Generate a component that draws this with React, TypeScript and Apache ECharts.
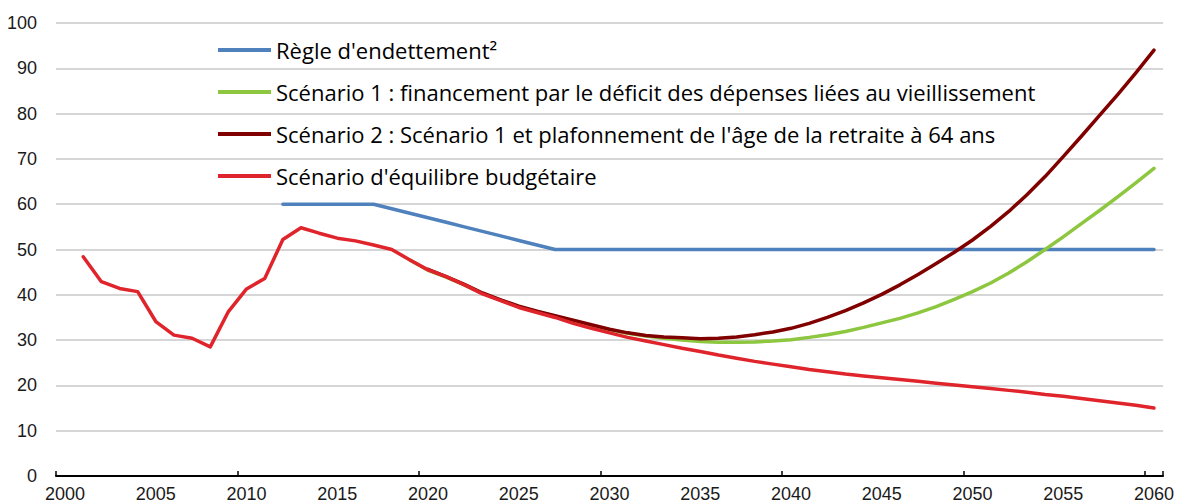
import React, { useEffect, useRef } from "react";
import * as echarts from "echarts";

const years = [
  "2000", "2001", "2002", "2003", "2004", "2005", "2006", "2007", "2008", "2009",
  "2010", "2011", "2012", "2013", "2014", "2015", "2016", "2017", "2018", "2019",
  "2020", "2021", "2022", "2023", "2024", "2025", "2026", "2027", "2028", "2029",
  "2030", "2031", "2032", "2033", "2034", "2035", "2036", "2037", "2038", "2039",
  "2040", "2041", "2042", "2043", "2044", "2045", "2046", "2047", "2048", "2049",
  "2050", "2051", "2052", "2053", "2054", "2055", "2056", "2057", "2058", "2059",
  "2060",
];

const seriesNames = [
  "Règle d'endettement²",
  "Scénario 1 : financement par le déficit des dépenses liées au vieillissement",
  "Scénario 2 : Scénario 1 et plafonnement de l'âge de la retraite à 64 ans",
  "Scénario d'équilibre budgétaire",
];

const seriesColors = ["#4F81BD", "#8DC63F", "#800000", "#E0242B"];

// Règle d'endettement (2000-2060)
const regleEndettement = [
  null, null, null, null, null, null, null, null, null, null,
  null, null, 60, 60, 60, 60, 60, 60, 59, 58,
  57, 56, 55, 54, 53, 52, 51, 50, 50, 50,
  50, 50, 50, 50, 50, 50, 50, 50, 50, 50,
  50, 50, 50, 50, 50, 50, 50, 50, 50, 50,
  50, 50, 50, 50, 50, 50, 50, 50, 50, 50,
  50,
];

// Scénario 1 (2000-2060)
const scenario1 = [
  null, null, null, null, null, null, null, null, null, null,
  null, null, null, null, null, null, null, null, null, 47.7,
  45.4, 43.9, 42.2, 40.3, 38.8, 37.4, 36.3, 35.2, 34.2, 33.2,
  32.3, 31.5, 30.9, 30.4, 30.0, 29.7, 29.5, 29.5, 29.6, 29.8,
  30.1, 30.6, 31.2, 31.9, 32.8, 33.8, 34.8, 36.0, 37.4, 39.0,
  40.7, 42.6, 44.8, 47.3, 50.0, 52.8, 55.7, 58.6, 61.6, 64.7,
  67.9,
];

// Scénario 2 (2000-2060)
const scenario2 = [
  null, null, null, null, null, null, null, null, null, null,
  null, null, null, null, null, null, null, null, null, null,
  45.6, 44.0, 42.3, 40.4, 38.9, 37.5, 36.4, 35.4, 34.4, 33.4,
  32.4, 31.6, 31.0, 30.7, 30.5, 30.3, 30.4, 30.7, 31.2, 31.8,
  32.6, 33.7, 35.0, 36.5, 38.2, 40.1, 42.2, 44.5, 46.9, 49.4,
  52.1, 55.1, 58.4, 62.1, 66.1, 70.5, 75.0, 79.6, 84.2, 89.0,
  94.0,
];

// Scénario d'équilibre budgétaire (2000-2060)
const equilibre = [
  null, 48.4, 42.9, 41.4, 40.7, 34.1, 31.1, 30.4, 28.5, 36.3,
  41.3, 43.6, 52.2, 54.8, 53.6, 52.5, 51.9, 51.0, 50.0, 47.7,
  45.5, 44.0, 42.2, 40.2, 38.7, 37.2, 36.1, 35.0, 33.7, 32.6,
  31.6, 30.6, 29.8, 29.0, 28.2, 27.5, 26.7, 26.0, 25.3, 24.7,
  24.1, 23.5, 23.0, 22.5, 22.1, 21.7, 21.3, 20.9, 20.5, 20.1,
  19.7, 19.3, 18.9, 18.5, 18.0, 17.6, 17.1, 16.6, 16.1, 15.6,
  15.0,
];

const seriesData = [regleEndettement, scenario1, scenario2, equilibre];

const axisFont = "'Liberation Sans', Arial, sans-serif";
const legendFont = "'Open Sans', 'Noto Sans', sans-serif";

export default function App() {
  const ref = useRef<HTMLDivElement>(null);

  useEffect(() => {
    if (!ref.current) return;
    const chart = echarts.init(ref.current, null, { renderer: "svg" });
    chart.setOption({
      animation: false,
      backgroundColor: "#ffffff",
      grid: { left: 56, right: 13, top: 23, bottom: 27, containLabel: false },
      legend: {
        data: seriesNames,
        orient: "vertical",
        left: 218,
        top: 39,
        padding: 0,
        itemGap: 20,
        itemWidth: 53,
        itemHeight: 4,
        icon: "rect",
        selectedMode: false,
        textStyle: {
          fontFamily: legendFont,
          fontSize: 22,
          lineHeight: 22,
          color: "#000000",
        },
      },
      xAxis: {
        type: "category",
        data: years,
        boundaryGap: true,
        axisLine: { show: true, lineStyle: { color: "#000000", width: 2 } },
        axisTick: {
          show: true,
          inside: true,
          length: 5,
          interval: 9,
          lineStyle: { color: "#000000", width: 1.5 },
        },
        axisLabel: {
          interval: 4,
          margin: 9,
          fontSize: 18,
          fontFamily: axisFont,
          color: "#1a1a1a",
        },
        splitLine: { show: false },
      },
      yAxis: {
        type: "value",
        min: 0,
        max: 100,
        interval: 10,
        axisLine: { show: false },
        axisTick: { show: false },
        axisLabel: {
          margin: 19,
          fontSize: 18,
          fontFamily: axisFont,
          color: "#1a1a1a",
        },
        splitLine: { show: true, lineStyle: { color: "#c8c8c8", width: 1.5 } },
      },
      series: seriesNames.map((name, i) => ({
        name,
        type: "line",
        data: seriesData[i],
        symbol: "none",
        showSymbol: false,
        connectNulls: false,
        itemStyle: { color: seriesColors[i] },
        lineStyle: { color: seriesColors[i], width: 3.5, cap: "round", join: "round" },
        z: 2 + i,
      })),
    });
    return () => chart.dispose();
  }, []);

  return (
    <div
      ref={ref}
      style={{ position: "fixed", left: 0, top: 0, width: 1177, height: 503, background: "#fff" }}
    />
  );
}
